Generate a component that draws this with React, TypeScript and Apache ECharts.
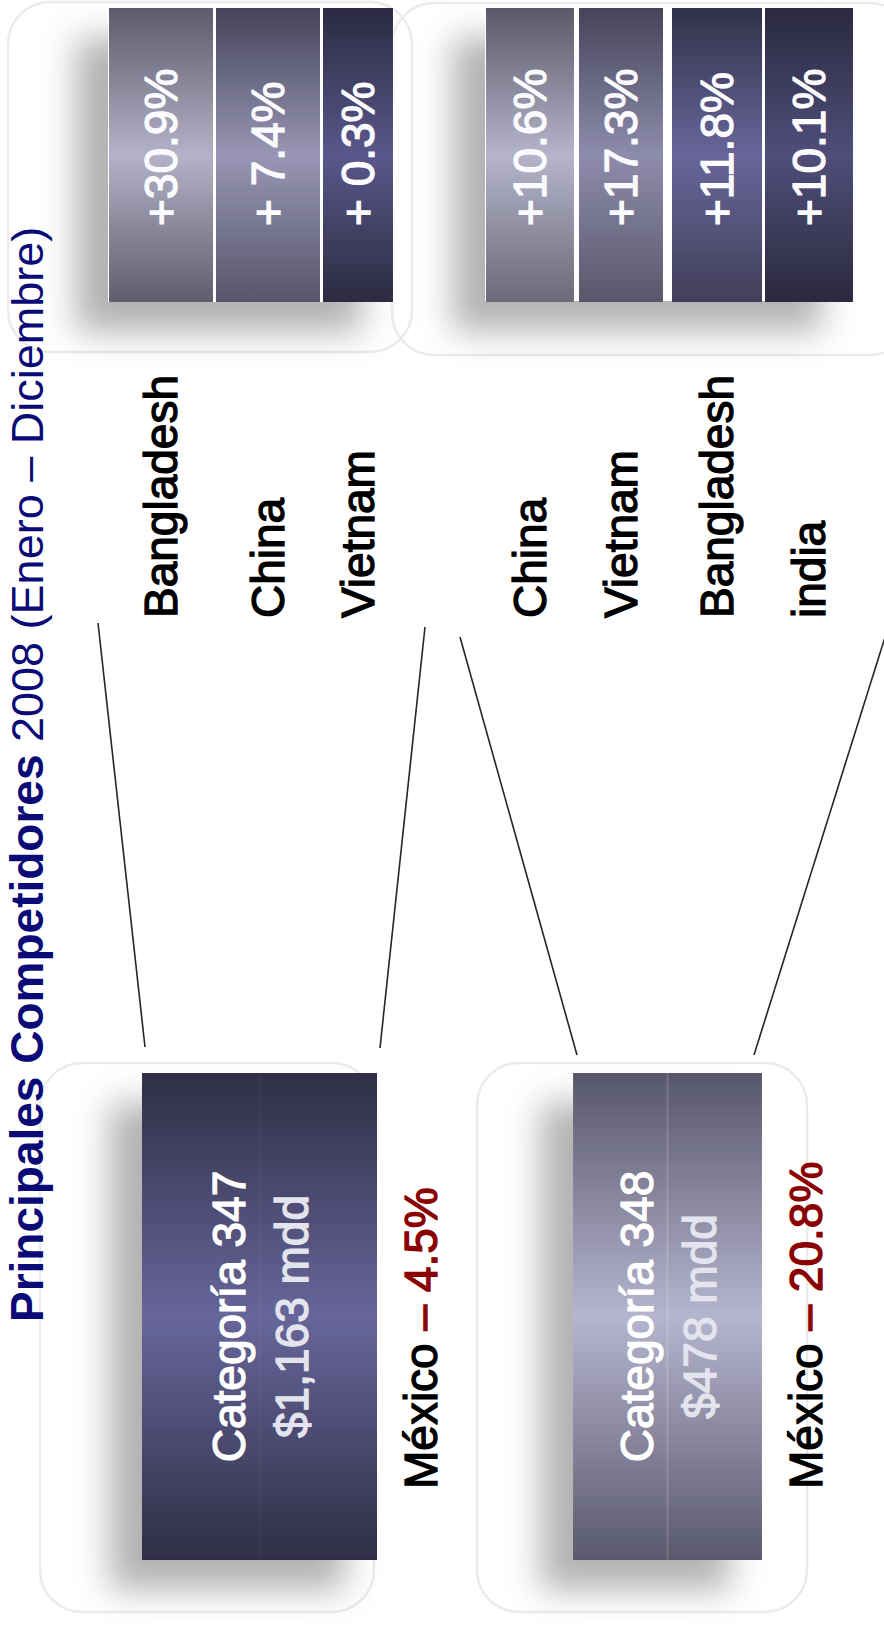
import React, { useEffect, useRef } from 'react';
import * as echarts from 'echarts';

// ---------- data ----------
const TITLE_BOLD = 'Principales Competidores';
const TITLE_REST = '2008 (Enero – Diciembre)';

const LEFT_COUNTRIES = ['Bangladesh', 'China', 'Vietnam'];
const LEFT_GROWTH = [30.9, 7.4, 0.3];

const RIGHT_COUNTRIES = ['China', 'Vietnam', 'Bangladesh', 'india'];
const RIGHT_GROWTH = [10.6, 17.3, 11.8, 10.1];

const CATEGORIES = ['Categoría 347', 'Categoría 348'];
const CATEGORY_MDD = [1163, 478];
const MEXICO_CHANGE = [-4.5, -20.8];

// ---------- styles ----------
const FONT = '"Liberation Sans", Arial, Helvetica, sans-serif';
const FS = 46;
const NAVY = '#0b0b78';
const RED = '#8b0000';
const TEXT_STROKE = 1.3;

const LEFT_FILLS = [
  ['#5c5b6a', '#b3b2c8', '#5f5e6c'],
  ['#444359', '#9896b4', '#56556a'],
  ['#2b2a41', '#59578a', '#2c2b40'],
];
const RIGHT_FILLS = [
  ['#5a5969', '#b5b4ca', '#6a6a78'],
  ['#454459', '#8e8cab', '#58576a'],
  ['#323149', '#68669a', '#413f58'],
  ['#2a293f', '#504e7a', '#2a293d'],
];
const BOX_FILLS = [
  ['#2f2e46', '#67669a', '#2f2e46'],
  ['#57566a', '#b6b5cf', '#59586b'],
];
const BOX_SEAM_ALPHA = [0.04, 0.16];
const LEFT_WIDTHS = [0.972, 0.972, 0.654];
const RIGHT_WIDTHS = [0.946, 0.903, 0.968, 0.946];
const BOX_WIDTHS = [0.576, 0.463];

const SHADOW = {
  shadowBlur: 34,
  shadowColor: 'rgba(0,0,0,0.3)',
  shadowOffsetX: -32,
  shadowOffsetY: 30,
};

const fmtGrowth = (v: number) => (v >= 10 ? '+' : '+ ') + v.toFixed(1) + '%';
const fmtMdd = (v: number) => '$' + v.toLocaleString('en-US') + ' mdd';
const fmtMex = (v: number) => '– ' + Math.abs(v).toFixed(1) + '%';

function vgrad(c: string[]) {
  return new echarts.graphic.LinearGradient(0, 0, 0, 1, [
    { offset: 0, color: c[0] },
    { offset: 0.5, color: c[1] },
    { offset: 1, color: c[2] },
  ]);
}

function rotText(x: number, y: number, text: string, fill: string, align = 'left') {
  return {
    type: 'text',
    x,
    y,
    rotation: Math.PI / 2,
    style: {
      text,
      fill,
      stroke: fill,
      lineWidth: TEXT_STROKE,
      font: `${FS}px ${FONT}`,
      align,
      verticalAlign: 'middle',
      textAlign: align,
      textVerticalAlign: 'middle',
    },
  };
}

function topRender(labels: string[], fills: string[][], widths: number[]) {
  return (params: any, api: any) => {
    const i = params.dataIndex;
    const p0 = api.coord([i, 0]);
    const p1 = api.coord([i, 1]);
    const band = api.size([1, 0])[0];
    const x0 = p0[0] - band / 2 + 1;
    const w = band * widths[i];
    const cx = x0 + w / 2;
    const yTop = p1[1];
    const yBot = p0[1];
    return {
      type: 'group',
      children: [
        {
          type: 'rect',
          shape: { x: x0, y: yTop, width: w, height: yBot - yTop },
          style: { fill: vgrad(fills[i]) },
        },
        rotText(cx, yBot - 76, fmtGrowth(api.value(1)), '#fbfbff'),
        rotText(cx, yBot + 316, labels[i], '#000000'),
      ],
    };
  };
}

function boxRender(params: any, api: any) {
  const i = params.dataIndex;
  const p0 = api.coord([i, 0]);
  const p1 = api.coord([i, 1]);
  const band = api.size([1, 0])[0];
  const w = band * BOX_WIDTHS[i];
  const x0 = p0[0] - w / 2;
  const cx = p0[0];
  const cy = (p0[1] + p1[1]) / 2;
  const mexFont = `${FS}px ${FONT}`;
  return {
    type: 'group',
    children: [
      {
        type: 'rect',
        shape: { x: x0, y: p1[1], width: w, height: p0[1] - p1[1] },
        style: { fill: vgrad(BOX_FILLS[i]), ...SHADOW },
      },
      {
        type: 'line',
        shape: { x1: cx, y1: p1[1], x2: cx, y2: p0[1] },
        style: { stroke: `rgba(255,255,255,${BOX_SEAM_ALPHA[i]})`, lineWidth: 2 },
      },
      rotText(cx - 31, cy, CATEGORIES[i], '#ffffff', 'center'),
      rotText(cx + 32, cy, fmtMdd(api.value(1)), '#e4e4ee', 'center'),
      {
        type: 'text',
        x: x0 + w + 44,
        y: p0[1] - 71,
        rotation: Math.PI / 2,
        style: {
          text: `{k|México} {r|${fmtMex(api.value(2))}}`,
          font: mexFont,
          fill: '#000000',
          align: 'left',
          verticalAlign: 'middle',
          textAlign: 'left',
          textVerticalAlign: 'middle',
          rich: {
            k: { font: mexFont, fill: '#000000', stroke: '#000000', lineWidth: TEXT_STROKE },
            r: { font: mexFont, fill: RED, stroke: RED, lineWidth: TEXT_STROKE },
          },
        },
      },
    ],
  };
}

export default function App() {
  const ref = useRef<HTMLDivElement>(null);

  useEffect(() => {
    document.body.style.margin = '0';
    const chart = echarts.init(ref.current as HTMLDivElement, undefined, {
      renderer: 'svg',
      width: 884,
      height: 1650,
    });

    const outline = (x: number, y: number, width: number, height: number) => ({
      type: 'rect',
      z: 0,
      shape: { x, y, width, height, r: 42 },
      style: { fill: 'none', stroke: '#ebebeb', lineWidth: 2.5 },
    });
    const backing = (x: number, y: number, width: number, height: number) => ({
      type: 'rect',
      z: 1,
      shape: { x, y, width, height },
      style: { fill: '#ffffff', ...SHADOW },
    });
    const connector = (x1: number, y1: number, x2: number, y2: number) => ({
      type: 'line',
      z: 5,
      shape: { x1, y1, x2, y2 },
      style: { stroke: '#262626', lineWidth: 1.6 },
    });

    const option: any = {
      animation: false,
      backgroundColor: '#ffffff',
      grid: [
        { left: 108, top: 8, width: 321, height: 294 },
        { left: 485, top: 8, width: 372, height: 294 },
        { left: 55.5, top: 1073, width: 816, height: 487 },
      ],
      xAxis: [
        { type: 'category', gridIndex: 0, data: LEFT_COUNTRIES, show: false },
        { type: 'category', gridIndex: 1, data: RIGHT_COUNTRIES, show: false },
        { type: 'category', gridIndex: 2, data: CATEGORIES, show: false },
      ],
      yAxis: [
        { type: 'value', gridIndex: 0, min: 0, max: 1, show: false },
        { type: 'value', gridIndex: 1, min: 0, max: 1, show: false },
        { type: 'value', gridIndex: 2, min: 0, max: 1, show: false },
      ],
      graphic: {
        elements: [
          outline(8, 2, 404, 350),
          outline(392, 3, 520, 352),
          outline(40, 1063, 334, 549),
          outline(477, 1063, 330, 549),
          backing(108, 8, 286, 294),
          backing(485, 8, 369, 293),
          connector(98, 623, 145, 1047),
          connector(425, 627, 380, 1048),
          connector(460, 637, 577, 1055),
          connector(886, 634, 754, 1055),
          {
            type: 'text',
            z: 5,
            x: 27,
            y: 1322,
            rotation: Math.PI / 2,
            style: {
              text: `{b|${TITLE_BOLD}} {n|${TITLE_REST}}`,
              font: `45px ${FONT}`,
              fill: NAVY,
              align: 'left',
              verticalAlign: 'middle',
              textAlign: 'left',
              textVerticalAlign: 'middle',
              rich: {
                b: { fontSize: FS, fontFamily: FONT, fontWeight: 'bold', fill: NAVY },
                n: { fontSize: 45, fontFamily: FONT, fontWeight: 'normal', fill: NAVY },
              },
            },
          },
        ],
      },
      series: [
        {
          type: 'custom',
          xAxisIndex: 0,
          yAxisIndex: 0,
          silent: true,
          renderItem: topRender(LEFT_COUNTRIES, LEFT_FILLS, LEFT_WIDTHS),
          data: LEFT_GROWTH.map((v, i) => [i, v]),
        },
        {
          type: 'custom',
          xAxisIndex: 1,
          yAxisIndex: 1,
          silent: true,
          renderItem: topRender(RIGHT_COUNTRIES, RIGHT_FILLS, RIGHT_WIDTHS),
          data: RIGHT_GROWTH.map((v, i) => [i, v]),
        },
        {
          type: 'custom',
          xAxisIndex: 2,
          yAxisIndex: 2,
          silent: true,
          renderItem: boxRender,
          data: CATEGORIES.map((c, i) => [i, CATEGORY_MDD[i], MEXICO_CHANGE[i]]),
        },
      ],
    };

    chart.setOption(option);
    return () => chart.dispose();
  }, []);

  return (
    <div
      ref={ref}
      style={{ position: 'absolute', left: 0, top: 0, width: 884, height: 1650, background: '#ffffff' }}
    />
  );
}
